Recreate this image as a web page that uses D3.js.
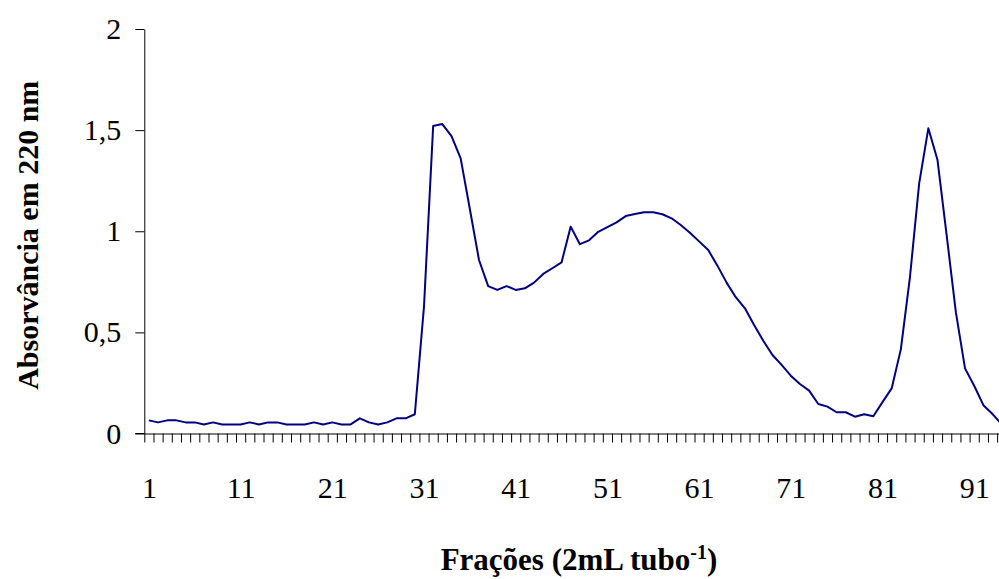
<!DOCTYPE html>
<html>
<head>
<meta charset="utf-8">
<script src="https://cdn.jsdelivr.net/npm/d3@7"></script>
<style>
    body { margin: 0; background: #fff; }
    svg { display: block; }
    .axis path, .axis line { stroke: #000; }
    .axis-title { font-family: 'Liberation Serif', 'Times New Roman', serif; font-size: 30px; font-weight: bold; fill: #000; }
</style>
</head>
<body>
<div id="chart"></div>
<script>
// fractions 1..94 (the chart is cut off at the right edge)
const fractions = d3.range(1, 95);

const absorbance = [
    0.065, 0.055, 0.065, 0.065, 0.055, 0.055, 0.045, 0.055, 0.045, 0.045,
    0.045, 0.055, 0.045, 0.055, 0.055, 0.045, 0.045, 0.045, 0.055, 0.045,
    0.055, 0.045, 0.045, 0.075, 0.055, 0.045, 0.055, 0.075, 0.075, 0.095,
    0.627, 1.52, 1.53, 1.47, 1.36, 1.11, 0.858, 0.729, 0.71, 0.729,
    0.71, 0.718, 0.746, 0.789, 0.817, 0.846, 1.023, 0.936, 0.955, 0.997,
    1.02, 1.044, 1.075, 1.085, 1.094, 1.094, 1.084, 1.064, 1.031, 0.993,
    0.95, 0.907, 0.83, 0.746, 0.674, 0.619, 0.537, 0.459, 0.388, 0.339,
    0.286, 0.245, 0.212, 0.146, 0.133, 0.105, 0.105, 0.083, 0.095, 0.085,
    0.155, 0.223, 0.416, 0.775, 1.237, 1.509, 1.352, 0.98, 0.6, 0.322,
    0.236, 0.14, 0.096, 0.045
];

const xLabels = [1, 11, 21, 31, 41, 51, 61, 71, 81, 91];
const yTicks = [0, 0.5, 1, 1.5, 2];

const width = 999;
const height = 579;

const plot = { left: 144.3, top: 29, bottom: 433.5, step: 9.17 };

const data = fractions.map((f, i) => ({ fraction: f, value: absorbance[i] }));

const xScale = d3.scaleLinear()
    .domain([0.5, fractions.length + 0.5])
    .range([plot.left, plot.left + fractions.length * plot.step]);

const yScale = d3.scaleLinear()
    .domain([0, 2])
    .range([plot.bottom, plot.top]);

const svg = d3.select('#chart').append('svg')
    .attr('width', width)
    .attr('height', height);

const commaFormat = d => String(d).replace('.', ',');

const styleLabels = g => g
    .attr('font-family', '\'Liberation Serif\', \'Times New Roman\', serif')
    .attr('font-size', 30)
    .selectAll('text')
    .style('font-size', '30px')
    .attr('fill', '#000');

// y axis
svg.append('g').attr('class', 'axis axis--y')
    .attr('transform', `translate(${plot.left},0)`)
    .call(d3.axisLeft(yScale)
        .tickValues(yTicks)
        .tickFormat(commaFormat)
        .tickSize(9)
        .tickSizeOuter(0)
        .tickPadding(14))
    .call(styleLabels);

// x axis: tick marks between categories
const boundaries = d3.range(0, fractions.length + 1).map(k => k + 0.5);

svg.append('g').attr('class', 'axis axis--x')
    .attr('transform', `translate(0,${plot.bottom})`)
    .call(d3.axisBottom(xScale)
        .tickValues(boundaries)
        .tickFormat('')
        .tickSize(9)
        .tickSizeOuter(0));

// x axis labels every 10 fractions
svg.append('g').attr('class', 'axis axis--x-labels')
    .attr('transform', `translate(0,${plot.bottom})`)
    .call(d3.axisBottom(xScale)
        .tickValues(xLabels)
        .tickFormat(d3.format('d'))
        .tickSize(0)
        .tickPadding(43))
    .call(g => g.select('.domain').remove())
    .call(styleLabels);

// x axis line reaches past the y axis, like the original
svg.append('line')
    .attr('x1', plot.left - 9)
    .attr('x2', plot.left)
    .attr('y1', plot.bottom)
    .attr('y2', plot.bottom)
    .attr('stroke', '#000');

const line = d3.line()
    .x(d => xScale(d.fraction))
    .y(d => yScale(d.value));

svg.append('path').datum(data)
    .attr('fill', 'none')
    .attr('stroke', '#000080')
    .attr('stroke-width', 2)
    .attr('stroke-linejoin', 'round')
    .attr('d', line);

// titles
const xTitle = svg.append('text').attr('class', 'axis-title')
    .attr('x', 579)
    .attr('y', 570)
    .style('font-size', '31px')
    .style('text-anchor', 'middle');

xTitle.append('tspan').text('Frações (2mL tubo');
xTitle.append('tspan')
    .attr('dy', '-0.55em')
    .style('font-size', '20px')
    .text('-1');
xTitle.append('tspan')
    .attr('dy', '0.37em')
    .text(')');

svg.append('text').attr('class', 'axis-title')
    .attr('transform', `translate(38,${(plot.top + plot.bottom) / 2 + 4}) rotate(-90)`)
    .style('text-anchor', 'middle')
    .text('Absorvância em 220 nm');
</script>
</body>
</html>
